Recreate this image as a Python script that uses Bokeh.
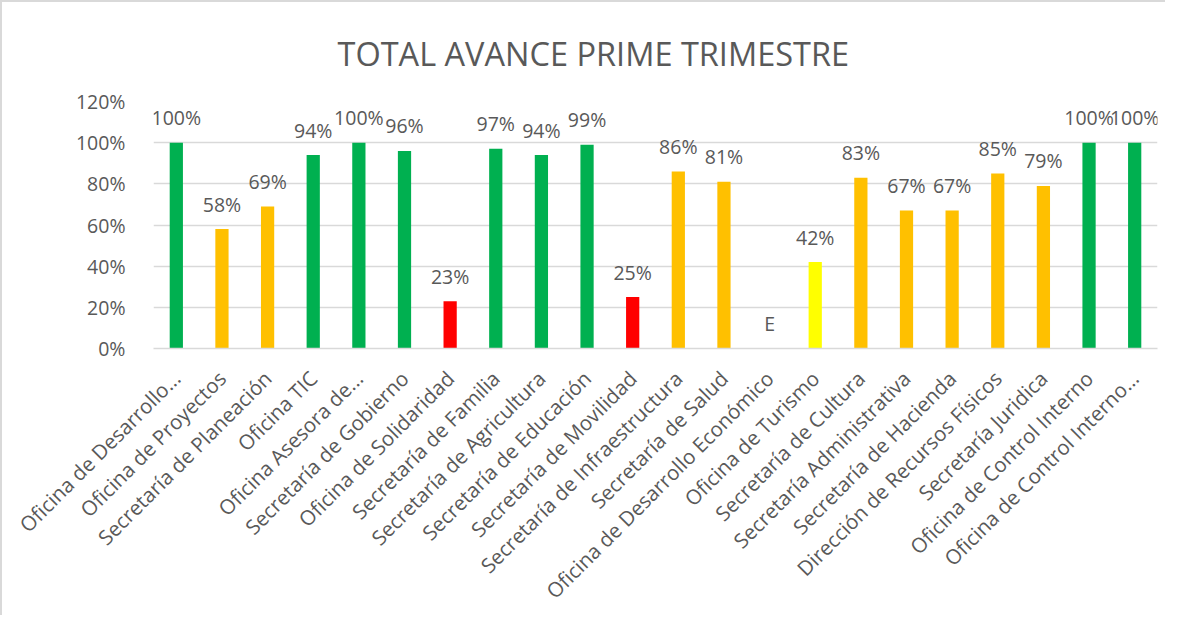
import math
from bokeh.plotting import figure
from bokeh.models import ColumnDataSource, NumeralTickFormatter, FixedTicker, Range1d
from bokeh.core.properties import value
from bokeh.embed import file_html
from bokeh.resources import INLINE

categories = [
    "Oficina de Desarrollo...",
    "Oficina de Proyectos",
    "Secretaría de Planeación",
    "Oficina TIC",
    "Oficina Asesora de...",
    "Secretaría de Gobierno",
    "Oficina de Solidaridad",
    "Secretaría de Familia",
    "Secretaría de Agricultura",
    "Secretaría de Educación",
    "Secretaría de Movilidad",
    "Secretaría de Infraestructura",
    "Secretaría de Salud",
    "Oficina de Desarrollo Económico",
    "Oficina de Turismo",
    "Secretaría de Cultura",
    "Secretaría Administrativa",
    "Secretaría de Hacienda",
    "Dirección de Recursos Físicos",
    "Secretaría Juridica",
    "Oficina de Control Interno",
    "Oficina de Control Interno...",
]
values = [1.00, 0.58, 0.69, 0.94, 1.00, 0.96, 0.23, 0.97, 0.94, 0.99, 0.25,
          0.86, 0.81, 0.0, 0.42, 0.83, 0.67, 0.67, 0.85, 0.79, 1.00, 1.00]
labels = ["100%", "58%", "69%", "94%", "100%", "96%", "23%", "97%", "94%", "99%", "25%",
          "86%", "81%", "E", "42%", "83%", "67%", "67%", "85%", "79%", "100%", "100%"]
status = ["verde", "naranja", "naranja", "verde", "verde", "verde", "rojo", "verde", "verde", "verde", "rojo",
          "naranja", "naranja", "ninguno", "amarillo", "naranja", "naranja", "naranja", "naranja", "naranja", "verde", "verde"]
palette = {"verde": "#00B050", "naranja": "#FFC000", "rojo": "#FF0000", "amarillo": "#FFFF00", "ninguno": "#FFFFFF"}
y_ticks = [0, 0.2, 0.4, 0.6, 0.8, 1.0, 1.2]

TXT = "#595959"
FONT = "Open Sans"

src = ColumnDataSource(dict(cat=categories, val=values, lab=labels,
                            color=[palette[s] for s in status]))

p = figure(x_range=categories, y_range=Range1d(0, 1.2),
           width=1165, height=615, output_backend="svg", toolbar_location=None,
           min_border_left=151, min_border_right=10, min_border_top=99, min_border_bottom=269)

p.title.text = "TOTAL AVANCE PRIME TRIMESTRE"
p.title.text_font = FONT
p.title.text_font_size = "32.5px"
p.title.text_font_style = "normal"
p.title.text_color = TXT
p.title.align = "left"
p.title.offset = 184
p.title.standoff = 51

p.vbar(x="cat", top="val", width=0.29, color="color", line_color=None, source=src)
p.text(x="cat", y="val", text="lab", source=src, text_align="center", text_baseline="middle",
       y_offset=-25, text_font=value(FONT), text_font_size="19.5px", text_color=TXT)

p.outline_line_color = None
p.xgrid.grid_line_color = None
p.ygrid.grid_line_color = "#D9D9D9"
p.ygrid.grid_line_width = 1.5

p.yaxis.ticker = FixedTicker(ticks=y_ticks)
p.yaxis.formatter = NumeralTickFormatter(format="0%")
p.yaxis.axis_line_color = None
p.yaxis.major_tick_line_color = None
p.yaxis.minor_tick_line_color = None
p.yaxis.major_label_text_font = FONT
p.yaxis.major_label_text_font_size = "19.5px"
p.yaxis.major_label_text_color = TXT
p.yaxis.major_label_standoff = 22

p.xaxis.axis_line_color = "#D9D9D9"
p.xaxis.axis_line_width = 1.5
p.xaxis.major_tick_line_color = None
p.xaxis.minor_tick_line_color = None
p.xaxis.major_label_orientation = math.pi / 4
p.xaxis.major_label_text_font = FONT
p.xaxis.major_label_text_font_size = "20.5px"
p.xaxis.major_label_text_color = TXT
p.xaxis.major_label_standoff = 20

p.styles = {"border-top": "2px solid #D9D9D9", "border-left": "2px solid #D9D9D9"}

open("out.html", "w").write(file_html(p, INLINE))
